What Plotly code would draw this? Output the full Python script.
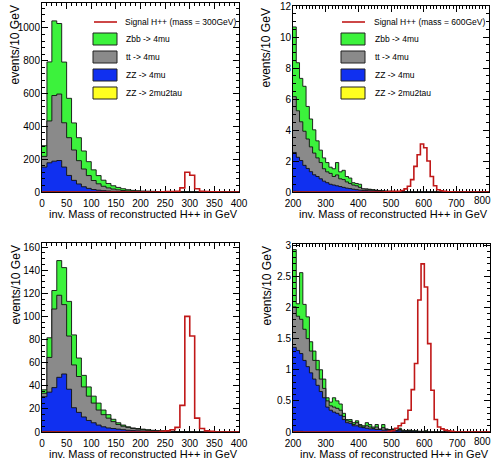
import plotly.graph_objects as go

W, H = 493, 466
FONT = "Liberation Sans, Arial"

bin_width = 10
p1_start = 0
p2_start = 200
p3_start = 0
p4_start = 200

# ---------------- panel 1 : mass = 300 GeV (loose cuts) ----------------
p1_zz2mu2tau = [2, 3, 3, 2, 2, 1, 1, 1, 0, 0, 0, 0, 0, 0, 0, 0, 0, 0, 0, 0,
                0, 0, 0, 0, 0, 0, 0, 0, 0, 0, 0, 0, 0, 0, 0, 0, 0, 0, 0, 0]
p1_zz4mu = [150, 175, 185, 190, 150, 100, 70, 48, 32, 22, 15, 11, 8, 6, 4, 3, 2, 2, 1, 1,
            1, 0, 0, 0, 0, 0, 0, 0, 0, 0, 0, 0, 0, 0, 0, 0, 0, 0, 0, 0]
p1_tt = [65, 255, 400, 405, 270, 230, 185, 142, 108, 78, 55, 39, 27, 19, 14, 10, 7, 5, 4, 3,
         2, 2, 2, 1, 1, 0, 0, 0, 0, 0, 0, 0, 0, 0, 0, 0, 0, 0, 0, 0]
p1_zbb = [65, 360, 455, 430, 370, 240, 165, 140, 110, 85, 65, 50, 37, 27, 20, 15, 11, 7, 5, 4,
          3, 3, 2, 2, 2, 2, 2, 2, 1, 1, 0, 0, 0, 0, 0, 0, 0, 0, 0, 0]
p1_signal = [0, 0, 0, 0, 0, 0, 0, 0, 0, 0, 0, 0, 0, 0, 0, 0, 0, 0, 0, 0,
             0, 0, 0, 0, 1, 2, 3, 5, 25, 120, 102, 20, 4, 2, 1, 1, 0, 0, 0, 0]

# ---------------- panel 2 : mass = 600 GeV (loose cuts) ----------------
p2_zz2mu2tau = [0.05, 0.04, 0.03, 0.02, 0.02, 0.01, 0.01, 0, 0, 0, 0, 0, 0, 0, 0, 0, 0, 0, 0, 0,
                0, 0, 0, 0, 0, 0, 0, 0, 0, 0, 0, 0, 0, 0, 0, 0, 0, 0, 0, 0,
                0, 0, 0, 0, 0, 0, 0, 0, 0, 0, 0, 0, 0, 0, 0, 0, 0, 0, 0, 0]
p2_zz4mu = [2.5, 2.2, 2.0, 1.7, 1.5, 1.3, 1.1, 1.0, 0.85, 0.7, 0.6, 0.5, 0.45, 0.4, 0.35, 0.3, 0.25, 0.22, 0.18, 0.15,
            0.12, 0.1, 0.09, 0.08, 0.07, 0.06, 0.05, 0.04, 0.03, 0.03, 0.02, 0.02, 0.02, 0.01, 0.01, 0, 0, 0, 0, 0,
            0, 0, 0, 0, 0, 0, 0, 0, 0, 0, 0, 0, 0, 0, 0, 0, 0, 0, 0, 0]
p2_tt = [3.6, 3.0, 2.5, 2.2, 1.9, 1.6, 1.4, 1.2, 1.05, 0.8, 0.7, 0.7, 0.55, 0.7, 0.5, 0.5, 0.4, 0.33, 0.27, 0.25,
         0.18, 0.1, 0.09, 0.07, 0.05, 0.04, 0.03, 0.02, 0.02, 0.01, 0.01, 0.01, 0, 0.01, 0, 0, 0, 0, 0, 0,
         0, 0, 0, 0, 0, 0, 0, 0, 0, 0, 0, 0, 0, 0, 0, 0, 0, 0, 0, 0]
p2_zbb = [4.5, 3.1, 2.8, 2.9, 2.1, 1.8, 1.5, 1.1, 0.8, 0.7, 0.6, 0.4, 0.5, 0.8, 0.45, 0.6, 0.35, 0.35, 0.15, 0.15,
          0.2, 0, 0.02, 0.03, 0.03, 0.02, 0.02, 0.02, 0.01, 0.01, 0.01, 0, 0.01, 0, 0.01, 0, 0, 0, 0, 0,
          0, 0, 0, 0, 0, 0, 0, 0, 0, 0, 0, 0, 0, 0, 0, 0, 0, 0, 0, 0]
p2_signal = [0, 0, 0, 0, 0, 0, 0, 0, 0, 0, 0, 0, 0, 0, 0, 0, 0, 0, 0, 0,
             0, 0, 0, 0, 0, 0, 0, 0, 0.02, 0.03, 0.05, 0.05, 0.05, 0.1, 0.2, 0.37, 0.8, 1.65, 2.4, 3.1,
             2.85, 2.0, 1.0, 0.4, 0.15, 0.08, 0.04, 0.02, 0.01, 0, 0, 0, 0, 0, 0, 0, 0, 0, 0, 0]

# ---------------- panel 3 : mass = 300 GeV (tight cuts) ----------------
p3_zz2mu2tau = [0.5, 0.5, 0.4, 0.3, 0.2, 0, 0, 0, 0, 0, 0, 0, 0, 0, 0, 0, 0, 0, 0, 0,
                0, 0, 0, 0, 0, 0, 0, 0, 0, 0, 0, 0, 0, 0, 0, 0, 0, 0, 0, 0]
p3_zz4mu = [30, 34, 38, 47, 50, 37, 21, 17, 13, 10, 8, 6, 4.5, 3.5, 3, 2.5, 2, 1.5, 1.2, 1,
            0.8, 0.6, 0.5, 0.4, 0.3, 0.2, 0.2, 0.1, 0.1, 0.1, 0, 0, 0, 0, 0, 0, 0, 0, 0, 0]
p3_tt = [3, 30, 68, 71, 60, 46, 37, 31, 26, 21, 17, 13, 10.5, 8.5, 6, 4, 3, 2.5, 1.8, 1.5,
         1.2, 0.9, 0.7, 0.6, 0.5, 0.4, 0.2, 0.2, 0.1, 0.1, 0.1, 0, 0, 0, 0, 0, 0, 0, 0, 0]
p3_zbb = [3, 17, 16, 30, 32, 30, 26, 16, 10, 8, 6, 6, 4, 3, 2, 1.5, 1, 0.5, 0.5, 0.5,
          0.5, 0.5, 0.3, 0.2, 0.2, 0.2, 0.2, 0.1, 0.1, 0, 0, 0, 0, 0, 0, 0, 0, 0, 0, 0]
p3_signal = [0, 0, 0, 0, 0, 0, 0, 0, 0, 0, 0, 0, 0, 0, 0, 0, 0, 0, 0, 0,
             0, 0, 0, 0, 0.5, 1, 2, 4, 23, 100, 83, 12, 3, 1, 0.5, 0, 0, 0, 0, 0]

# ---------------- panel 4 : mass = 600 GeV (tight cuts) ----------------
p4_zz2mu2tau = [0.01, 0.01, 0.01, 0, 0, 0, 0, 0, 0, 0, 0, 0, 0, 0, 0, 0, 0, 0, 0, 0,
                0, 0, 0, 0, 0, 0, 0, 0, 0, 0, 0, 0, 0, 0, 0, 0, 0, 0, 0, 0,
                0, 0, 0, 0, 0, 0, 0, 0, 0, 0, 0, 0, 0, 0, 0, 0, 0, 0, 0, 0]
p4_zz4mu = [1.35, 1.3, 1.25, 1.15, 1.05, 0.95, 0.85, 0.75, 0.65, 0.55, 0.4, 0.35, 0.32, 0.3, 0.27, 0.2, 0.15, 0.14, 0.1, 0.1,
            0.08, 0.07, 0.06, 0.05, 0.05, 0.04, 0.04, 0.03, 0.03, 0.03, 0.02, 0.02, 0.02, 0.01, 0.01, 0.01, 0.01, 0.01, 0, 0,
            0, 0, 0, 0, 0, 0, 0, 0, 0, 0, 0, 0, 0, 0, 0, 0, 0, 0, 0, 0]
p4_tt = [0.65, 0.55, 0.55, 0.5, 0.45, 0.35, 0.3, 0.25, 0.2, 0.15, 0.1, 0.07, 0.08, 0.08, 0.08, 0.05, 0.03, 0.03, 0.02, 0.05,
         0.02, 0.01, 0.04, 0.03, 0.01, 0.04, 0, 0.04, 0.01, 0, 0.02, 0, 0.02, 0.01, 0.01, 0.01, 0, 0, 0.01, 0.01,
         0.01, 0, 0, 0, 0, 0, 0, 0, 0, 0, 0, 0, 0, 0, 0, 0, 0, 0, 0, 0]
p4_zbb = [0.92, 0.2, 0.75, 0.4, 0.35, 0.15, 0.15, 0.15, 0.15, 0.15, 0.05, 0.06, 0.15, 0.12, 0.1, 0.05, 0.02, 0.03, 0.03, 0.03,
          0.02, 0.02, 0.05, 0.04, 0.02, 0.04, 0.01, 0.05, 0.01, 0.01, 0.01, 0.01, 0.02, 0.01, 0, 0.01, 0.01, 0.01, 0, 0,
          0.01, 0, 0, 0, 0, 0, 0, 0, 0, 0, 0, 0, 0, 0, 0, 0, 0, 0, 0, 0]
p4_signal = [0, 0, 0, 0, 0, 0, 0, 0, 0, 0, 0, 0, 0, 0, 0, 0, 0, 0, 0, 0,
             0, 0, 0, 0, 0, 0, 0, 0, 0, 0.01, 0.02, 0.06, 0.1, 0.14, 0.2, 0.35, 0.68, 1.1, 2.12, 2.7,
             2.33, 1.42, 0.67, 0.2, 0.08, 0.05, 0.03, 0.02, 0.01, 0, 0, 0, 0, 0, 0, 0, 0, 0, 0, 0]

legend_labels_300 = ["Signal H++ (mass = 300GeV)", "Zbb -> 4mu", "tt -> 4mu", "ZZ -> 4mu", "ZZ -> 2mu2tau"]
legend_labels_600 = ["Signal H++ (mass = 600GeV)", "Zbb -> 4mu", "tt -> 4mu", "ZZ -> 4mu", "ZZ -> 2mu2tau"]
x_title = "inv. Mass of reconstructed H++ in GeV"
y_title = "events/10 GeV"
edge_tick_label = "800"

C_ZBB = "#3cf23c"
C_TT = "#8a8a8a"
C_ZZ = "#1030f0"
C_YEL = "#ffff20"
C_SIG = "#c01818"

panels = [
    dict(start=p1_start, yel=p1_zz2mu2tau, zz=p1_zz4mu, tt=p1_tt, zbb=p1_zbb, sig=p1_signal,
         xdom=(42, 239), ydom=(3, 192), xr=[0, 400], yr=[0, 1152], xd=50, xm=10, yd=200, ym=40),
    dict(start=p2_start, yel=p2_zz2mu2tau, zz=p2_zz4mu, tt=p2_tt, zbb=p2_zbb, sig=p2_signal,
         xdom=(293, 489), ydom=(6, 192), xr=[200, 800], yr=[0, 12], xd=100, xm=10, yd=2, ym=0.5),
    dict(start=p3_start, yel=p3_zz2mu2tau, zz=p3_zz4mu, tt=p3_tt, zbb=p3_zbb, sig=p3_signal,
         xdom=(42, 239), ydom=(243, 432), xr=[0, 400], yr=[0, 163.5], xd=50, xm=10, yd=20, ym=5),
    dict(start=p4_start, yel=p4_zz2mu2tau, zz=p4_zz4mu, tt=p4_tt, zbb=p4_zbb, sig=p4_signal,
         xdom=(293, 490), ydom=(244, 432), xr=[200, 800], yr=[0, 3.02], xd=100, xm=10, yd=0.5, ym=0.1),
]


def step(x0, vals):
    xs = [x0 + bin_width * i for i in range(len(vals) + 1)]
    ys = list(vals) + [vals[-1]]
    return xs, ys


def px(x):
    return x / W


def py(y):
    return 1 - y / H


fig = go.Figure()
layout = dict(width=W, height=H, margin=dict(l=0, r=0, t=0, b=0, autoexpand=False),
              paper_bgcolor="white", plot_bgcolor="white", showlegend=False)

for k, p in enumerate(panels):
    n = k + 1
    xa = "x" if n == 1 else f"x{n}"
    ya = "y" if n == 1 else f"y{n}"
    c1 = [a for a in p["yel"]]
    c2 = [a + b for a, b in zip(c1, p["zz"])]
    c3 = [a + b for a, b in zip(c2, p["tt"])]
    c4 = [a + b for a, b in zip(c3, p["zbb"])]
    for vals, col in [(c4, C_ZBB), (c3, C_TT), (c2, C_ZZ), (c1, C_YEL)]:
        xs, ys = step(p["start"], vals)
        fig.add_trace(go.Scatter(x=xs, y=ys, mode="lines", line_shape="hv",
                                 fill="tozeroy", fillcolor=col,
                                 line=dict(color="#101010", width=0.9),
                                 xaxis=xa, yaxis=ya, hoverinfo="skip"))
    xs, ys = step(p["start"], p["sig"])
    fig.add_trace(go.Scatter(x=xs, y=ys, mode="lines", line_shape="hv",
                             line=dict(color=C_SIG, width=1.6),
                             xaxis=xa, yaxis=ya, hoverinfo="skip"))

    common = dict(ticks="inside", ticklen=6, tickwidth=1, tickcolor="black",
                  showline=True, linecolor="black", linewidth=1, mirror="ticks",
                  showgrid=False, zeroline=False, automargin=False,
                  tickfont=dict(family=FONT, size=10, color="black"))
    xkey = "xaxis" if n == 1 else f"xaxis{n}"
    ykey = "yaxis" if n == 1 else f"yaxis{n}"
    layout[xkey] = dict(domain=[px(p["xdom"][0]), px(p["xdom"][1])], range=p["xr"],
                        tick0=0, dtick=p["xd"], anchor=ya, layer="below traces",
                        ticklabelstandoff=2,
                        minor=dict(dtick=p["xm"], ticks="inside", ticklen=3, tickcolor="black", showgrid=False),
                        **common)
    layout[ykey] = dict(domain=[py(p["ydom"][1]), py(p["ydom"][0])], range=p["yr"],
                        tick0=0, dtick=p["yd"], anchor=xa, ticklabelstandoff=-1,
                        minor=dict(dtick=p["ym"], ticks="inside", ticklen=3, tickcolor="black", showgrid=False),
                        **common)

annotations = []
shapes = []

# axis titles
for p in panels:
    annotations.append(dict(text=x_title, xref="paper", yref="paper",
                            x=px(p["xdom"][1] + 1), y=py(p["ydom"][1] + 22),
                            xanchor="right", yanchor="middle", showarrow=False,
                            font=dict(family=FONT, size=11, color="black")))
    annotations.append(dict(text=y_title, xref="paper", yref="paper", textangle=-90,
                            x=px(p["xdom"][0] - 27), y=py(p["ydom"][0] + 1),
                            xanchor="center", yanchor="top", showarrow=False,
                            font=dict(family=FONT, size=12, color="black")))

# last x tick label of the right-hand panels, kept inside the page edge
for p in panels[1::2]:
    annotations.append(dict(text=edge_tick_label, xref="paper", yref="paper",
                            x=1.0, y=py(p["ydom"][1] + 9),
                            xanchor="right", yanchor="middle", showarrow=False,
                            font=dict(family=FONT, size=10, color="black")))

# legends (top row)
for labels, bx, tx in [(legend_labels_300, 93, 123), (legend_labels_600, 341, 372)]:
    shapes.append(dict(type="line", xref="paper", yref="paper",
                       x0=px(bx + 1), x1=px(bx + 24), y0=py(22), y1=py(22),
                       line=dict(color=C_SIG, width=1.6)))
    annotations.append(dict(text=labels[0], xref="paper", yref="paper", x=px(tx), y=py(22),
                            xanchor="left", yanchor="middle", showarrow=False,
                            font=dict(family=FONT, size=8.5, color="black")))
    for i, col in enumerate([C_ZBB, C_TT, C_ZZ, C_YEL]):
        top = 33 + 18 * i
        shapes.append(dict(type="rect", xref="paper", yref="paper",
                           x0=px(bx), x1=px(bx + 24), y0=py(top + 12), y1=py(top),
                           fillcolor=col, line=dict(color="#202020", width=1)))
        annotations.append(dict(text=labels[i + 1], xref="paper", yref="paper", x=px(tx + 1), y=py(top + 6),
                                xanchor="left", yanchor="middle", showarrow=False,
                                font=dict(family=FONT, size=8.5, color="black")))

layout["annotations"] = annotations
layout["shapes"] = shapes
fig.update_layout(**layout)
fig.write_html("out.html", config={"displayModeBar": False},
               post_script="document.body.style.margin='0';document.body.style.overflow='hidden';")
